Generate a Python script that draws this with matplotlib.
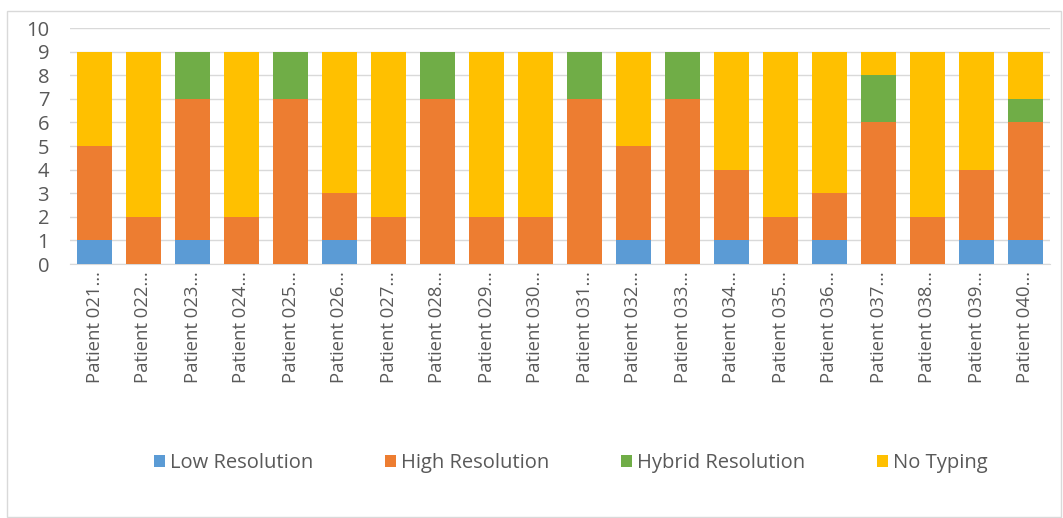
import numpy as np
import matplotlib
matplotlib.use("Agg")
from matplotlib import pyplot as plt
from matplotlib.patches import Rectangle

plt.rcParams['font.family'] = ['Open Sans', 'DejaVu Sans']

patients = ["Patient 021…", "Patient 022…", "Patient 023…", "Patient 024…", "Patient 025…",
            "Patient 026…", "Patient 027…", "Patient 028…", "Patient 029…", "Patient 030…",
            "Patient 031…", "Patient 032…", "Patient 033…", "Patient 034…", "Patient 035…",
            "Patient 036…", "Patient 037…", "Patient 038…", "Patient 039…", "Patient 040…"]
low_res = [1, 0, 1, 0, 0, 1, 0, 0, 0, 0, 0, 1, 0, 1, 0, 1, 0, 0, 1, 1]
high_res = [4, 2, 6, 2, 7, 2, 2, 7, 2, 2, 7, 4, 7, 3, 2, 2, 6, 2, 3, 5]
hybrid_res = [0, 0, 2, 0, 2, 0, 0, 2, 0, 0, 2, 0, 2, 0, 0, 0, 2, 0, 0, 1]
no_typing = [4, 7, 0, 7, 0, 6, 7, 0, 7, 7, 0, 4, 0, 5, 7, 6, 1, 7, 5, 2]

series = [("Low Resolution", low_res, "#5B9BD5"),
          ("High Resolution", high_res, "#ED7D31"),
          ("Hybrid Resolution", hybrid_res, "#70AD47"),
          ("No Typing", no_typing, "#FFC000")]

W, H = 1063, 518
fig = plt.figure(figsize=(W / 100, H / 100), dpi=100)
ax = fig.add_axes([70 / W, 1 - 264 / H, 980 / W, 236 / H])

x = np.arange(len(patients))
bottom = np.zeros(len(patients))
for name, vals, col in series:
    ax.bar(x, vals, 0.72, bottom=bottom, color=col, label=name, zorder=3)
    bottom += np.array(vals)

ax.set_xlim(-0.5, len(patients) - 0.5)
ax.set_ylim(0, 10)
ax.set_yticks(range(0, 11))
ax.grid(axis="y", color="#D9D9D9", linewidth=1, zorder=0)
for s in ["top", "right", "left"]:
    ax.spines[s].set_visible(False)
ax.spines["bottom"].set_color("#D9D9D9")
ax.tick_params(axis="both", length=0, colors="#595959")
ax.tick_params(axis="y", pad=15, labelsize=14.5)
ax.tick_params(axis="x", pad=5, labelsize=13.3)
ax.set_xticks(x)
ax.set_xticklabels(patients, rotation=90)

fig.legend(loc="center", bbox_to_anchor=(0.537, 1 - 463 / H), ncol=4, frameon=False,
           fontsize=14.5, handlelength=0.55, handleheight=0.55, handletextpad=0.25,
           columnspacing=3.55, labelcolor="#595959")

fig.patches.append(Rectangle((7 / W, 0.002), (W - 9) / W, 1 - 11 / H - 0.002,
                             transform=fig.transFigure, fill=False,
                             edgecolor="#D9D9D9", linewidth=1))

fig.savefig("out.png", dpi=100)
